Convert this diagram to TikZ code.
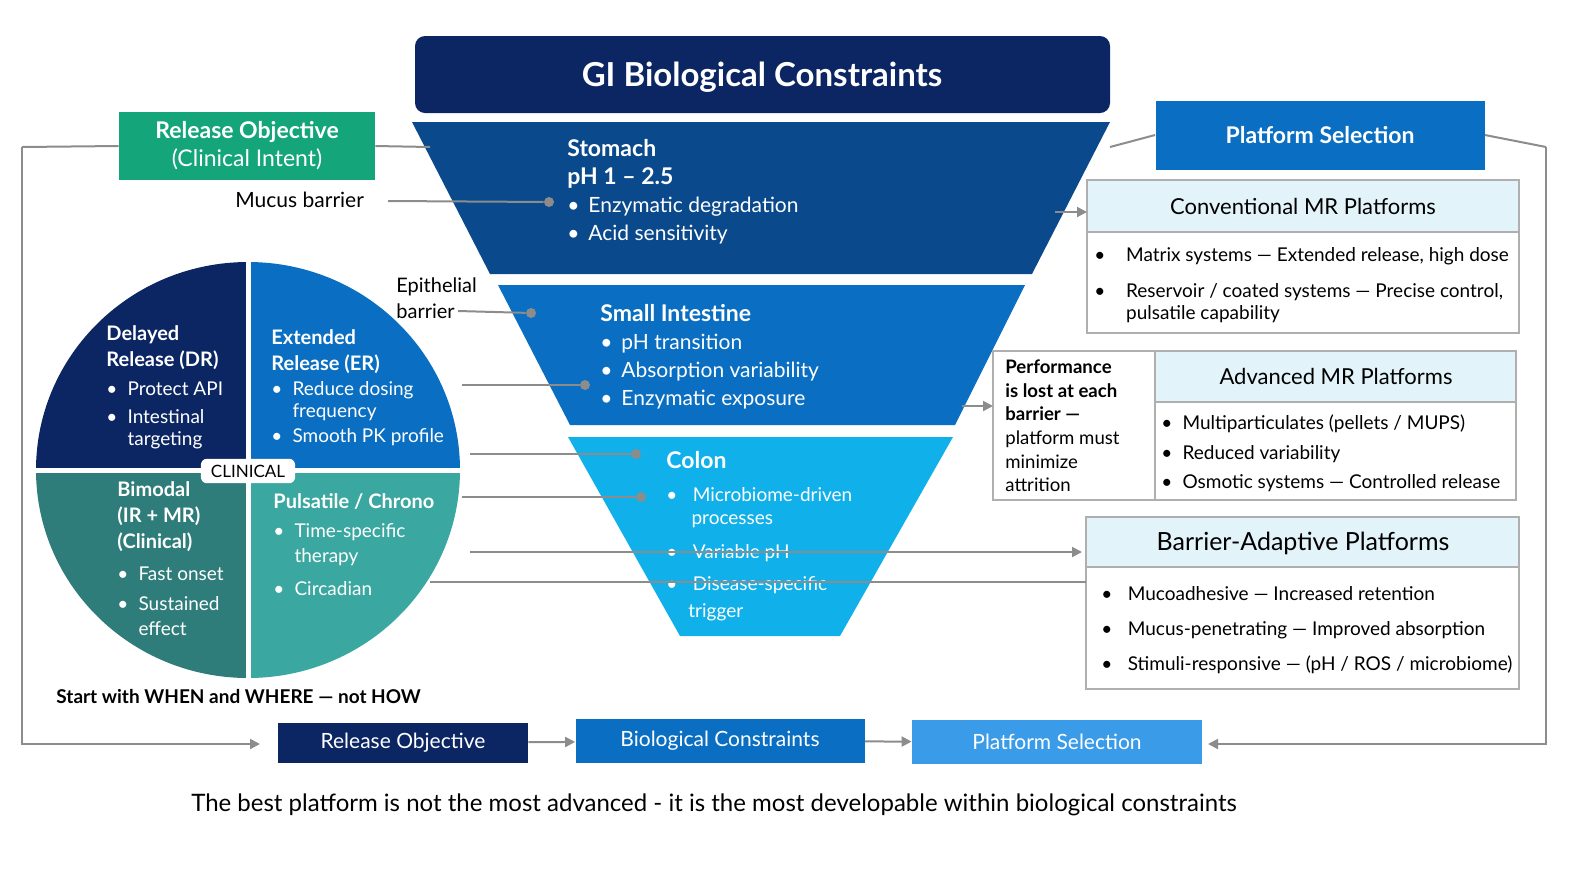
\documentclass[tikz,border=0pt]{standalone}
\usepackage{fontspec}
\setmainfont{Lato}
\usetikzlibrary{arrows.meta}
\definecolor{gnavy}{RGB}{12,38,100}
\definecolor{gstom}{RGB}{10,74,140}
\definecolor{gsmall}{RGB}{10,111,194}
\definecolor{gcolon}{RGB}{16,176,234}
\definecolor{gplat}{RGB}{58,155,232}
\definecolor{ggreen}{RGB}{20,166,122}
\definecolor{gtealdk}{RGB}{46,125,122}
\definecolor{gteal}{RGB}{58,168,160}
\definecolor{gline}{RGB}{140,140,140}
\definecolor{ghead}{RGB}{227,243,250}
\begin{document}
\begin{tikzpicture}[x=0.5pt,y=-0.5pt]
            \tikzstyle{every node}=[font=\fontsize{9.5}{11}\selectfont, inner sep=0pt]
            \tikzset{wt/.style={text=white, anchor=west},
                     bt/.style={text=black, anchor=west},
                     hd/.style={font=\fontsize{11.5}{13}\selectfont\bfseries},
                     conn/.style={draw=gline, line width=1pt},
                     arr/.style={conn, -{Triangle[length=5pt,width=5pt]}},
                     dot/.style={circle, fill=gline, minimum size=5pt},
                     pbox/.style={draw=gline!70, line width=1pt},
                     flow/.style={text=white, font=\fontsize{10.5}{12}\selectfont}}
            \useasboundingbox (0,0) rectangle (1591,869);
            % funnel
            \fill[gnavy, rounded corners=5pt] (415,113) -- (415,36) -- (1110,36) -- (1110,113) -- cycle;
            \node[text=white, font=\fontsize{16.5}{18}\selectfont\bfseries] (title) at (762,77) {GI Biological Constraints};
            \fill[gstom] (412,122) -- (1110,122) -- (1032,274) -- (490,274) -- cycle;
            \fill[gsmall] (498,285) -- (1025,285) -- (955,425) -- (570,425) -- cycle;
            \fill[gcolon] (568,437) -- (953,437) -- (840,636) -- (680,636) -- cycle;
            \node[wt, hd] (st) at (567,148) {Stomach};
            \node[wt, hd] (stph) at (567,178) {pH 1 – 2.5};
            \node[wt, font=\fontsize{10.5}{12}\selectfont] (st1) at (567,207) {•\, Enzymatic degradation};
            \node[wt, font=\fontsize{10.5}{12}\selectfont] (st2) at (567,235) {•\, Acid sensitivity};
            \node[wt, hd] (si) at (600,313) {Small Intestine};
            \node[wt, font=\fontsize{10.5}{12}\selectfont] (si1) at (600,344) {•\, pH transition};
            \node[wt, font=\fontsize{10.5}{12}\selectfont] (si2) at (600,372) {•\, Absorption variability};
            \node[wt, font=\fontsize{10.5}{12}\selectfont] (si3) at (600,400) {•\, Enzymatic exposure};
            \node[wt, hd] (co) at (666,460) {Colon};
            \node[wt] (co1) at (666,495) {•\;\; Microbiome-driven};
            \node[wt] (co1b) at (688,521) {\,processes};
            \node[wt] (co2) at (666,553) {•\;\; Variable pH};
            \node[wt] (co3) at (666,585) {•\;\; Disease-specific};
            \node[wt] (co3b) at (688,612) {trigger};
            % side boxes
            \node[fill=ggreen, minimum width=128pt, minimum height=34pt, align=center, text=white, font=\fontsize{11.5}{14}\selectfont] (relobj) at (247,146) {\textbf{Release Objective}\\(Clinical Intent)};
            \node[fill=gsmall, minimum width=164.5pt, minimum height=34.5pt, text=white, hd] (platsel) at (1320,135) {Platform Selection};
            \coordinate (lt) at (22,147);
            \coordinate (rt) at (1546,147);
            \draw[conn] (relobj.east) -- (430,147);
            \draw[conn] (1110,147) -- (platsel.west);
            % barriers
            \node[bt, font=\fontsize{10.5}{12}\selectfont] (mucus) at (235,200) {Mucus barrier};
            \node[dot] (d1) at (549,202) {};
            \draw[conn] (388,201) -- (d1);
            \node[bt, align=left, font=\fontsize{10}{13}\selectfont] (epi) at (396,298) {Epithelial\\barrier};
            \node[dot] (d2) at (531,313) {};
            \draw[conn] (458,311) -- (d2);
            % circle
            \begin{scope}
              \clip (248,470) ellipse (212 and 208);
              \fill[gnavy] (36,262) rectangle (248,470);
              \fill[gsmall] (248,262) rectangle (460,470);
              \fill[gtealdk] (36,470) rectangle (248,678);
              \fill[gteal] (248,470) rectangle (460,678);
              \draw[white, line width=2.5pt] (248,250) -- (248,690) (30,470) -- (470,470);
            \end{scope}
            \node[fill=white, rounded corners=3pt, inner xsep=5pt, inner ysep=3pt, font=\fontsize{8.5}{10}\selectfont] (clin) at (248,471) {CLINICAL};
            \node[wt, align=left, font=\fontsize{10}{13}\selectfont\bfseries] (dr) at (106,348) {Delayed\\Release (DR)};
            \node[wt] (dr1) at (106,389) {•\; Protect API};
            \node[wt, align=left] (dr2) at (106,429) {•\; Intestinal\\\phantom{•\; }targeting};
            \node[wt, align=left, font=\fontsize{10}{13}\selectfont\bfseries] (er) at (271,352) {Extended\\Release (ER)};
            \node[wt, align=left] (er1) at (271,401) {•\; Reduce dosing\\\phantom{•\; }frequency};
            \node[wt] (er2) at (271,437) {•\; Smooth PK profile};
            \node[wt, align=left, font=\fontsize{10}{13}\selectfont\bfseries] (bi) at (117,517) {Bimodal\\(IR + MR)\\(Clinical)};
            \node[wt] (bi1) at (117,574) {•\; Fast onset};
            \node[wt, align=left, font=\fontsize{9.5}{12.5}\selectfont] (bi2) at (117,616) {•\; Sustained\\\phantom{•\; }effect};
            \node[wt, font=\fontsize{10}{12}\selectfont\bfseries] (pu) at (273,502) {Pulsatile / Chrono};
            \node[wt, align=left, font=\fontsize{9.5}{12.5}\selectfont] (pu1) at (273,545) {•\; Time-specific\\\phantom{•\; }therapy};
            \node[wt] (pu2) at (273,589) {•\; Circadian};
            \node[bt, font=\fontsize{9.5}{11}\selectfont\bfseries] (when) at (56,697) {Start with WHEN and WHERE — not HOW};
            % circle connectors
            \node[dot] (d3) at (585,385) {};
            \node[dot] (d4) at (636,454) {};
            \node[dot] (d5) at (641,497) {};
            \draw[conn] (462,385) -- (d3);
            \draw[conn] (470,454) -- (d4);
            \draw[conn] (462,497) -- (d5);
            % platforms
            \draw[pbox, fill=ghead] (1087,180) rectangle (1519,232);
            \draw[pbox] (1087,232) rectangle (1519,333);
            \node[font=\fontsize{11}{13}\selectfont] (conv) at (1303,206) {Conventional MR Platforms};
            \node[bt] (cv1) at (1094,256) {•\;\;\; Matrix systems — Extended release, high dose};
            \node[bt, align=left] (cv2) at (1094,303) {•\;\;\; Reservoir / coated systems — Precise control,\\\phantom{•\;\;\; }pulsatile capability};
            \draw[pbox] (993,351) rectangle (1155,500);
            \node[bt, align=left, font=\fontsize{9.3}{11.8}\selectfont] (perf) at (1005,426) {\textbf{Performance}\\\textbf{is lost at each}\\\textbf{barrier —}\\platform must\\minimize\\attrition};
            \draw[pbox, fill=ghead] (1155,351) rectangle (1516,402);
            \draw[pbox] (1155,402) rectangle (1516,500);
            \node[font=\fontsize{11}{13}\selectfont] (adv) at (1336,376) {Advanced MR Platforms};
            \node[bt] (av1) at (1161,424) {•\; Multiparticulates (pellets / MUPS)};
            \node[bt] (av2) at (1161,454) {•\; Reduced variability};
            \node[bt] (av3) at (1161,483) {•\; Osmotic systems — Controlled release};
            \draw[pbox, fill=ghead] (1086,517) rectangle (1519,567);
            \draw[pbox] (1086,567) rectangle (1519,689);
            \node[font=\fontsize{12.5}{14}\selectfont] (bap) at (1303,543) {Barrier-Adaptive Platforms};
            \node[bt] (ba1) at (1101,594) {•\;\; Mucoadhesive — Increased retention};
            \node[bt] (ba2) at (1101,630) {•\;\; Mucus-penetrating — Improved absorption};
            \node[bt] (ba3) at (1101,665) {•\;\; Stimuli-responsive — (pH / ROS / microbiome)};
            \coordinate (cvin) at (1087,212);
            \coordinate (perfin) at (993,406);
            \coordinate (bapin) at (1082,552);
            \draw[arr] (1055,212) -- (cvin);
            \draw[arr] (962,406) -- (perfin);
            \draw[arr] (470,552) -- (bapin);
            \draw[conn] (430,582) -- (1086,582);
            % bottom flow
            \node[fill=gnavy, minimum width=125pt, minimum height=20pt, flow] (f1) at (403,743) {Release Objective};
            \node[fill=gsmall, minimum width=144.5pt, minimum height=22pt, flow] (f2) at (720,741) {Biological Constraints};
            \node[fill=gplat, minimum width=145pt, minimum height=22pt, flow] (f3) at (1057,742) {Platform Selection};
            \draw[arr] (f1) -- (f2);
            \draw[arr] (f2) -- (f3);
            \draw[arr] (lt) -- (22,744) -- (260,744);
            \draw[arr] (rt) -- (1546,744) -- (1208,744);
            \draw[conn] (lt) -- (relobj.west);
            \draw[conn] (platsel.east) -- (rt);
            \node[font=\fontsize{12}{14}\selectfont] (motto) at (714,805) {The best platform is not the most advanced - it is the most developable within biological constraints};
\end{tikzpicture}
\end{document}
